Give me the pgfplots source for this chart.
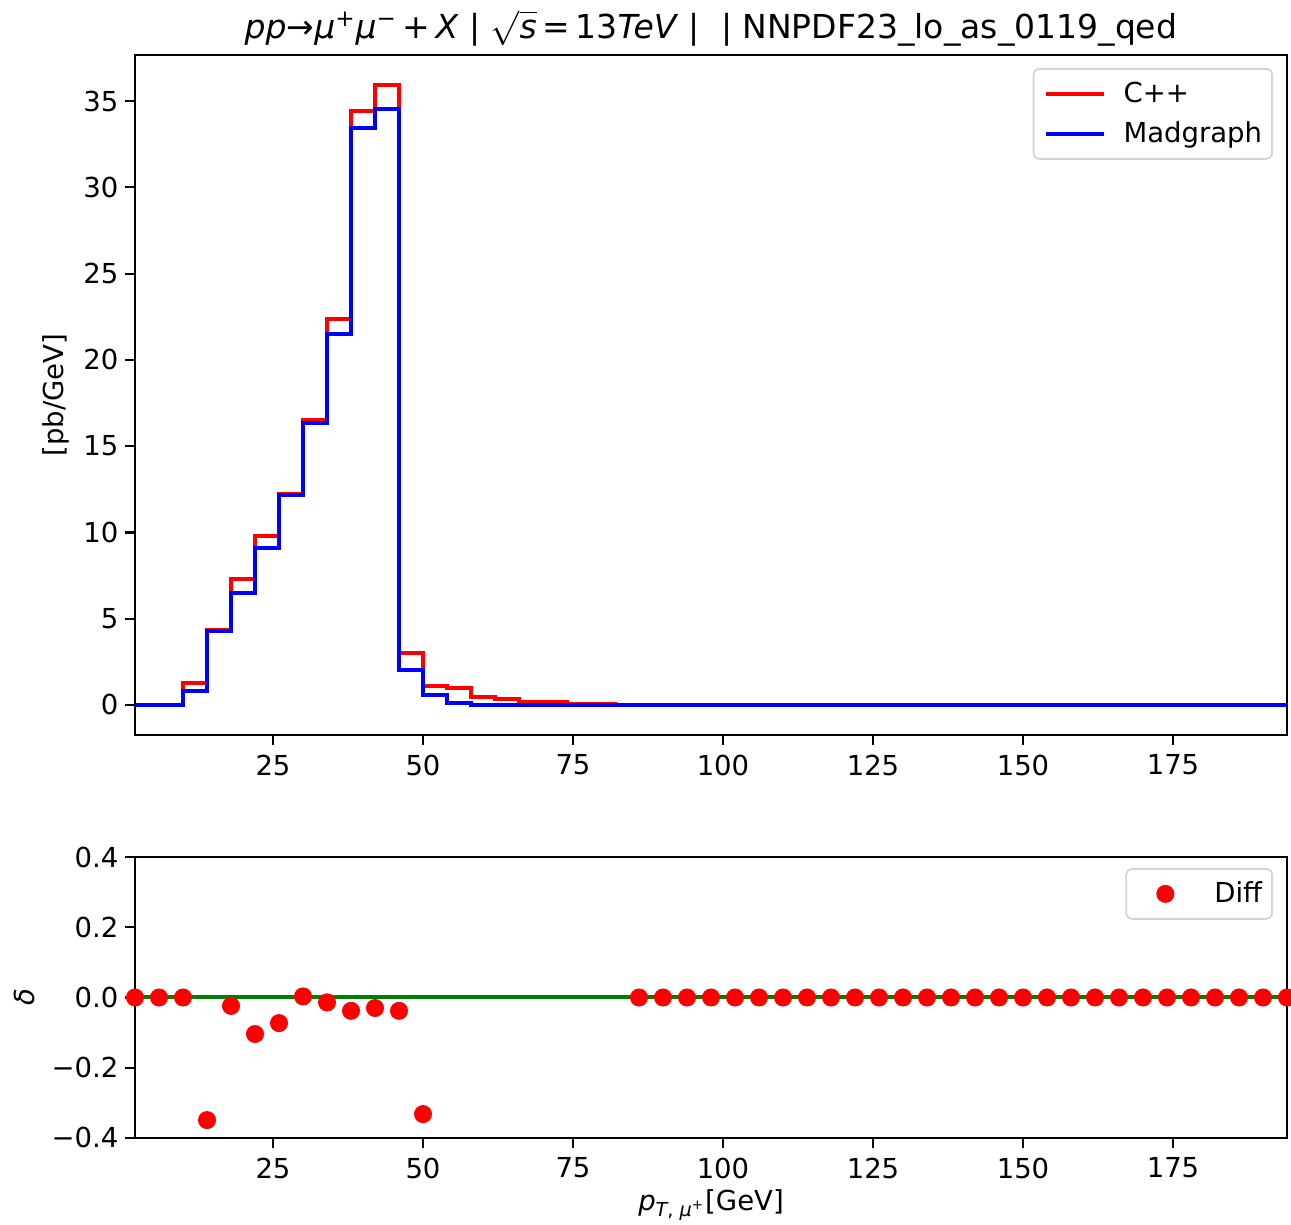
\documentclass[border=0pt]{standalone}
\usepackage{fontspec}
\setmainfont{DejaVu Sans}
\usepackage{pgfplots}
\usepackage{pgfplotstable}
\pgfplotsset{compat=1.18}
\definecolor{mplred}{RGB}{255,0,0}
\definecolor{mplblue}{RGB}{0,0,255}
\definecolor{mplgreen}{RGB}{0,128,0}
\definecolor{legedge}{RGB}{212,212,212}

\pgfplotstableread{
x red blue
2 0 0
6 0 0
10 0 0
14 1.26 0.83
18 4.35 4.29
22 7.28 6.51
26 9.81 9.08
30 12.21 12.15
34 16.51 16.36
38 22.36 21.49
42 34.43 33.45
46 35.92 34.53
50 3.03 2.03
54 1.10 0.58
58 0.97 0.10
62 0.48 0.02
66 0.33 0.01
70 0.19 0.0
74 0.15 0.0
78 0.08 0.0
82 0.03 0.0
86 0 0
90 0 0
94 0 0
98 0 0
102 0 0
106 0 0
110 0 0
114 0 0
118 0 0
122 0 0
126 0 0
130 0 0
134 0 0
138 0 0
142 0 0
146 0 0
150 0 0
154 0 0
158 0 0
162 0 0
166 0 0
170 0 0
174 0 0
178 0 0
182 0 0
186 0 0
190 0 0
194 0 0
}\histdata

\pgfplotstableread{
x d
2 0
6 0
10 0
14 -0.349
18 -0.024
22 -0.104
26 -0.073
30 0.003
34 -0.014
38 -0.038
42 -0.030
46 -0.038
50 -0.332
86 0
90 0
94 0
98 0
102 0
106 0
110 0
114 0
118 0
122 0
126 0
130 0
134 0
138 0
142 0
146 0
150 0
154 0
158 0
162 0
166 0
170 0
174 0
178 0
182 0
186 0
190 0
194 0
}\diffdata

\newcommand{\fs}{\fontsize{13.75}{16.5}\selectfont}

\pgfplotsset{
  mystyle/.style={
    scale only axis, width=576pt,
    xmin=2, xmax=194,
    xtick={25,50,75,100,125,150,175},
    tick pos=left,
    tick align=outside, major tick length=4.8pt,
    tick style={line width=1.1pt, black},
    axis line style={line width=1.1pt},
    tick label style={font=\fs},
    xticklabel style={yshift=-1.5pt},
    /pgf/number format/assume math mode=true,
    legend cell align=left,
    legend style={at={(axis description cs:1,1)}, anchor=north east,
      draw=legedge, rounded corners=3pt, fill=white, line width=0.9pt,
      inner xsep=5pt, inner ysep=2.5pt, font=\fs,
      column sep=0pt, row sep=0pt,
      nodes={inner sep=0pt, text height=14.5pt, text depth=5.5pt}},
  }
}

\begin{document}
\begin{tikzpicture}
\path[use as bounding box] (-67.5pt,-245pt) rectangle (578pt,367.5pt);
\begin{axis}[
  mystyle,
  name=top, at={(0pt,0pt)}, anchor=south west,
  height=340pt,
  ymin=-1.74, ymax=37.67,
  ytick={0,5,10,15,20,25,30,35},
  title={\textit{pp}→\textit{μ}\textsuperscript{+}\textit{μ}\textsuperscript{−}\,+\,\textit{X} | \smash{$\sqrt{\mbox{\textit{s}}}$}\,=\,13\textit{TeV} |\ \ | NNPDF23\_lo\_as\_0119\_qed},
  title style={font=\fontsize{16.5}{19}\selectfont, at={(axis description cs:0.5,1)}, anchor=base, yshift=2pt},
  ylabel={[pb/GeV]},
  ylabel style={font=\fs, at={(axis description cs:-0.0686,0.5)}, anchor=center},
  legend style={xshift=-7pt, yshift=-6.5pt},
  legend image code/.code={\path[draw=none,fill=none] (0pt,0pt) -- (39pt,0pt); \draw[#1, line width=2pt] (0pt,0pt) -- (29pt,0pt);},
]
\addplot[mplred, line width=2pt, const plot mark right] table[x=x, y=red] {\histdata};
\addlegendentry{C++}
\addplot[mplblue, line width=2pt, const plot mark right] table[x=x, y=blue] {\histdata};
\addlegendentry{Madgraph}
\end{axis}

\begin{axis}[
  mystyle,
  name=bot, at={(0pt,-61pt)}, anchor=north west,
  height=140.5pt,
  ymin=-0.4, ymax=0.4,
  ytick={-0.4,-0.2,0,0.2,0.4},
  yticklabels={−0.4,−0.2,0.0,0.2,0.4},
  ylabel={\textit{δ}},
  ylabel style={font=\fs, at={(axis description cs:-0.0955,0.5)}, anchor=center},
  xlabel={\textit{p}\textsubscript{\textit{T}, \textit{μ}\textsuperscript{+}}[GeV]},
  xlabel style={font=\fs, at={(axis description cs:0.5,-0.2384)}, anchor=center},
  legend style={xshift=-7pt, yshift=-5.5pt},
  legend image code/.code={\path[draw=none,fill=none] (0pt,0pt) -- (39pt,0pt); \draw[#1, draw=none] (0pt,0pt) -- (29pt,0pt); \path[#1] plot coordinates {(14.5pt,0pt)};},
]
\addplot[only marks, mark=*, mark size=4.2pt, mark options={draw=mplred, fill=mplred, line width=0.6pt}] table[x=x, y=d] {\diffdata};
\addlegendentry{Diff}
\addplot[mplgreen, line width=2pt, forget plot] coordinates {(2,0) (194,0)};
\end{axis}
\end{tikzpicture}
\end{document}
